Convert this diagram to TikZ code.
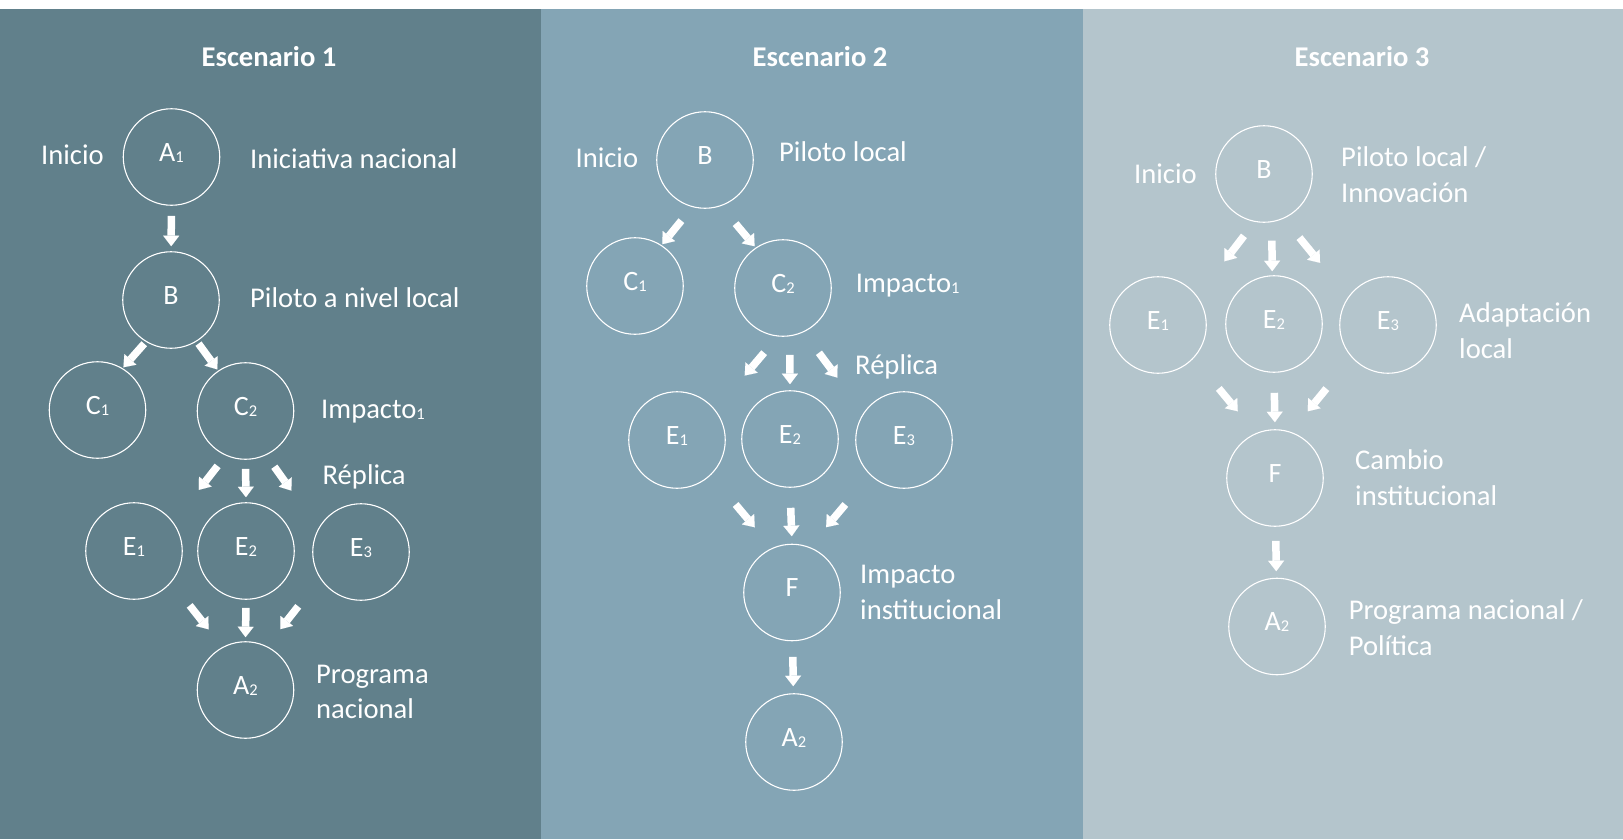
\documentclass[tikz,border=0pt]{standalone}
\usepackage{fontspec}
\setmainfont{Carlito}
\usetikzlibrary{arrows.meta}
\definecolor{pone}{RGB}{97,128,139}
\definecolor{ptwo}{RGB}{132,165,181}
\definecolor{pthree}{RGB}{180,197,204}
\newcommand\subd[1]{\raisebox{-1pt}{\fontsize{16.5}{20}\selectfont #1}}
\begin{document}
\begin{tikzpicture}[x=1pt,y=-1pt,
  stage/.style={circle, draw=white, line width=1.1pt, minimum size=96.5pt, inner sep=0pt, text=white,
    font=\fontsize{28}{33}\selectfont, text height=18pt, text depth=9.4pt},
  lbl/.style={anchor=base west, inner sep=0pt, text=white, font=\fontsize{28.6}{36}\selectfont},
  ttl/.style={anchor=base, inner sep=0pt, text=white, font=\fontsize{28.6}{36}\selectfont\bfseries},
  blk/.style={draw=white, line width=7.5pt, -{Triangle[width=16pt,length=10.5pt,line width=0.01pt]}}
]
\fill[white] (0,0) rectangle (1623,839);
\fill[pone] (0,9) rectangle (541,839);
\fill[ptwo] (541,9) rectangle (1083,839);
\fill[pthree] (1083,9) rectangle (1623,839);
\useasboundingbox (0,0) rectangle (1623,839);

% ---------- Escenario 1
\node[ttl] (p1t) at (269,66) {Escenario 1};
\node[stage] (p1A1) at (171.5,157) {A\subd{1}};
\node[stage] (p1B) at (171,300) {B};
\node[stage] (p1C1) at (97.5,410) {C\subd{1}};
\node[stage] (p1C2) at (245.5,411) {C\subd{2}};
\node[stage] (p1E1) at (134,551) {E\subd{1}};
\node[stage] (p1E2) at (246,551) {E\subd{2}};
\node[stage] (p1E3) at (361,552) {E\subd{3}};
\node[stage] (p1A2) at (245.5,690) {A\subd{2}};
\node[lbl] (p1ini) at (41,164.5) {Inicio};
\node[lbl] (p1l1) at (250,168) {Iniciativa nacional};
\node[lbl] (p1l2) at (250,307.5) {Piloto a nivel local};
\node[lbl] (p1l3) at (321,418) {Impacto\subd{1}};
\node[lbl] (p1l4) at (322.5,484) {Réplica};
\node[lbl] (p1l5) at (316,683) {Programa};
\node[lbl] (p1l6) at (316,718) {nacional};

\draw[blk, shorten <=10pt, shorten >=5pt] (p1A1) -- (p1B);
\draw[blk, shorten <=2.5pt, shorten >=1.2pt] (p1B.239) -- (p1C1.59);
\draw[blk, shorten <=2.8pt, shorten >=1.4pt] (p1B.302) -- (p1C2.124);
\draw[blk, shorten <=13.1pt, shorten >=41.2pt] (p1C2.246) -- (p1E1.36);
\draw[blk, shorten <=9pt, shorten >=5pt] (p1C2.south) -- (p1E2.north);
\draw[blk, shorten <=14.1pt, shorten >=46.4pt] (p1C2.295) -- (p1E3.151);
\draw[blk, shorten <=29.4pt, shorten >=22.5pt] (p1E1.320) -- (p1A2.118);
\draw[blk, shorten <=8pt, shorten >=4pt] (p1E2.south) -- (p1A2.north);
\draw[blk, shorten <=35.3pt, shorten >=21.6pt] (p1E3.213) -- (p1A2.64);

% ---------- Escenario 2
\node[ttl] (p2t) at (820,66) {Escenario 2};
\node[stage] (p2B) at (705,160) {B};
\node[stage] (p2C1) at (635,286) {C\subd{1}};
\node[stage] (p2C2) at (783,288) {C\subd{2}};
\node[stage] (p2E1) at (677,440) {E\subd{1}};
\node[stage] (p2E2) at (790,439) {E\subd{2}};
\node[stage] (p2E3) at (904,440) {E\subd{3}};
\node[stage] (p2F) at (792,592.5) {F};
\node[stage] (p2A2) at (794,742) {A\subd{2}};
\node[lbl] (p2ini) at (575.4,167) {Inicio};
\node[lbl] (p2l1) at (779,161.5) {Piloto local};
\node[lbl] (p2l2) at (855.7,292) {Impacto\subd{1}};
\node[lbl] (p2l3) at (855,374) {Réplica};
\node[lbl] (p2l4) at (860,583) {Impacto};
\node[lbl] (p2l5) at (860,619) {institucional};

\draw[blk, shorten <=17.4pt, shorten >=1.1pt] (p2B.255) -- (p2C1.57);
\draw[blk, shorten <=22.8pt, shorten >=1.7pt] (p2B.289) -- (p2C2.124);
\draw[blk, shorten <=21.2pt, shorten >=45.2pt] (p2C2.264) -- (p2E1.38);
\draw[blk, shorten <=18.5pt, shorten >=6pt] (p2C2.278) -- (p2E2.north);
\draw[blk, shorten <=25.6pt, shorten >=43.8pt] (p2C2.295) -- (p2E3.146);
\draw[blk, shorten <=38.4pt, shorten >=27pt] (p2E1.314) -- (p2F.114);
\draw[blk, shorten <=20pt, shorten >=7.5pt] (p2E2.south) -- (p2F.north);
\draw[blk, shorten <=38.4pt, shorten >=25.8pt] (p2E3.226) -- (p2F.69);
\draw[blk, shorten <=15.5pt, shorten >=7pt] (p2F) -- (p2A2);

% ---------- Escenario 3
\node[ttl] (p3t) at (1362,66) {Escenario 3};
\node[stage] (p3B) at (1264,174) {B};
\node[stage] (p3E1) at (1158,325) {E\subd{1}};
\node[stage] (p3E2) at (1274,324) {E\subd{2}};
\node[stage] (p3E3) at (1388,325) {E\subd{3}};
\node[stage] (p3F) at (1275,478) {F};
\node[stage] (p3A2) at (1277,626.5) {A\subd{2}};
\node[lbl] (p3ini) at (1134,183) {Inicio};
\node[lbl] (p3l1) at (1341,166) {Piloto local /};
\node[lbl] (p3l2) at (1341,202) {Innovación};
\node[lbl] (p3l3) at (1459,322) {Adaptación};
\node[lbl] (p3l4) at (1459,358) {local};
\node[lbl] (p3l5) at (1355,469) {Cambio};
\node[lbl] (p3l6) at (1355,505) {institucional};
\node[lbl] (p3l7) at (1348.6,619) {Programa nacional /};
\node[lbl] (p3l8) at (1348.6,655) {Política};

\draw[blk, shorten <=17.6pt, shorten >=44.2pt] (p3B.259) -- (p3E1.36);
\draw[blk, shorten <=18.5pt, shorten >=4pt] (p3B.279) -- (p3E2.92);
\draw[blk, shorten <=24.6pt, shorten >=44.2pt] (p3B.294) -- (p3E3.145);
\draw[blk, shorten <=39.2pt, shorten >=28.4pt] (p3E1.317) -- (p3F.113);
\draw[blk, shorten <=20pt, shorten >=7pt] (p3E2.south) -- (p3F.north);
\draw[blk, shorten <=40pt, shorten >=26.6pt] (p3E3.222) -- (p3F.71);
\draw[blk, shorten <=14pt, shorten >=6.5pt] (p3F) -- (p3A2);
\end{tikzpicture}
\end{document}
